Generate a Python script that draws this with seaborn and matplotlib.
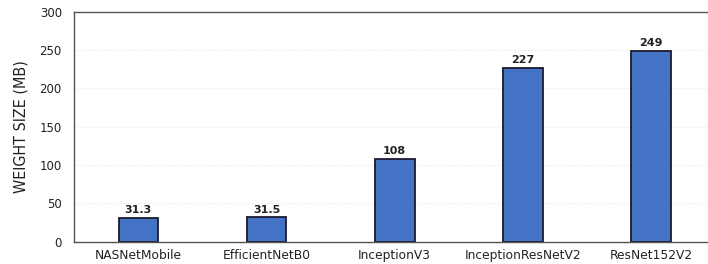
import pandas as pd
import seaborn as sns
import matplotlib.pyplot as plt

# data
models = ['NASNetMobile', 'EfficientNetB0', 'InceptionV3', 'InceptionResNetV2', 'ResNet152V2']
weight_mb = [31.3, 31.5, 108, 227, 249]
bar_labels = ['31.3', '31.5', '108', '227', '249']

df = pd.DataFrame({'model': models, 'size': weight_mb})

sns.set_style('white')
plt.rcParams['font.family'] = ['DejaVu Sans']

fig = plt.figure(figsize=(7.08, 2.64), dpi=100)
ax = fig.add_axes([0.105, 0.085, 0.905, 0.87])

sns.barplot(data=df, x='model', y='size', color='#4472C4', saturation=1,
            width=0.31, edgecolor='#1a1a2e', linewidth=1.3, ax=ax)

ax.bar_label(ax.containers[0], labels=bar_labels, padding=2,
             fontsize=8, fontweight='bold', color='#222222')

ax.set_ylim(0, 300)
ax.set_xlim(-0.5, 4.5)
ax.set_yticks(range(0, 301, 50))
ax.yaxis.grid(True, color='#e6e6e6', linestyle=(0, (1, 2)), linewidth=0.8)
ax.set_axisbelow(True)

ax.set_xlabel('')
ax.set_ylabel('WEIGHT SIZE (MB)', fontsize=11.5, color='#222222',
              family='DejaVu Sans', fontstretch='condensed', labelpad=8)
ax.tick_params(axis='x', direction='in', length=2, labelsize=8.8, colors='#222222', pad=5)
ax.tick_params(axis='y', length=0, labelsize=8.5, colors='#222222', pad=9)

for s in ax.spines.values():
    s.set_color('#555555')
    s.set_linewidth(1.0)

fig.savefig('out.png', dpi=100)
